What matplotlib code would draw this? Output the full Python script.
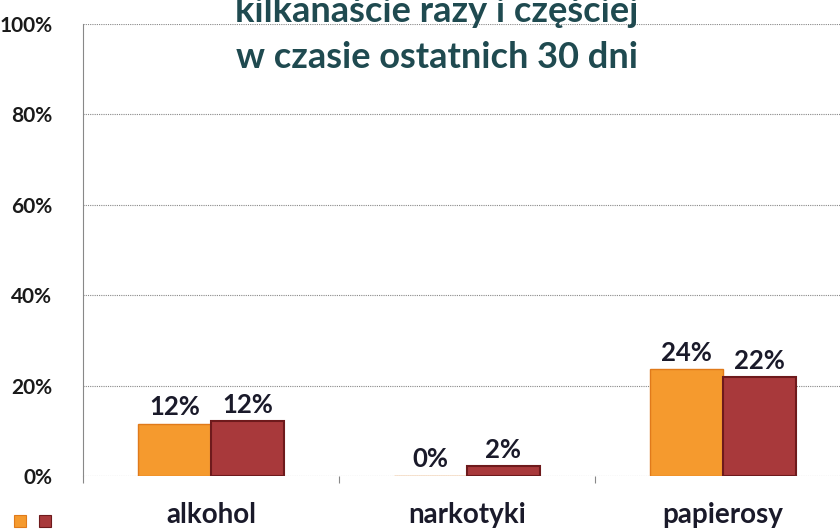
import numpy as np
import matplotlib.pyplot as plt
from matplotlib.patches import Rectangle

categories = ["alkohol", "narkotyki", "papierosy"]
series_a = [11.6, 0.0, 23.6]
series_b = [12.1, 2.2, 21.8]
yticks = [0, 20, 40, 60, 80, 100]
title_lines = ["kilkanaście razy i częściej", "w czasie ostatnich 30 dni"]

plt.rcParams['font.family'] = ['Lato', 'DejaVu Sans']

fig = plt.figure(figsize=(8.4, 5.31), dpi=100)
ax = fig.add_axes([83/840, 55/531, 768/840, 452/531])

x = np.arange(len(categories))
w = 0.285
c_a, c_b = "#f59a2e", "#a8393b"
ax.bar(x - w/2, series_a, w, color=c_a, edgecolor="#e07a1a", linewidth=1.0, zorder=3)
ax.bar(x + w/2, series_b, w, color=c_b, edgecolor="#6e1a1c", linewidth=1.5, zorder=3)

for xi, v in zip(x - w/2, series_a):
    ax.text(xi, v + 1.0, f"{v:.0f}%", ha="center", va="bottom", fontsize=18.5,
            fontweight="bold", color="#1a1a2a")
for xi, v in zip(x + w/2, series_b):
    ax.text(xi, v + 1.0, f"{v:.0f}%", ha="center", va="bottom", fontsize=18.5,
            fontweight="bold", color="#1a1a2a")

ax.set_xlim(-0.5, len(categories) - 0.5)
ax.set_ylim(0, 100)
ax.set_yticks(yticks)
ax.set_yticklabels([f"{t}%" for t in yticks], fontsize=15, fontweight="bold", color="#1a1a1a")
ax.tick_params(axis="y", length=0, pad=22)
ax.set_xticks(x)
ax.set_xticklabels(categories, fontsize=20, fontweight="bold", color="#1a1a2a")
ax.tick_params(axis="x", length=0, pad=19)
ax.set_xticks(np.arange(len(categories) + 1) - 0.5, minor=True)
ax.tick_params(axis="x", which="minor", length=5, color="#888888", width=0.8)

ax.grid(axis="y", linestyle=(0, (1, 1)), color="#888888", linewidth=0.8, zorder=0)
for s in ["top", "right", "bottom"]:
    ax.spines[s].set_visible(False)
ax.spines["left"].set_linestyle((0, (1, 1)))
ax.spines["left"].set_color("#888888")
ax.spines["left"].set_linewidth(0.8)

fig.text(437/840, 1 - 12/531, title_lines[0], ha="center", va="center",
         fontsize=26, fontweight="bold", color="#1f4a50")
fig.text(437/840, 1 - 57/531, title_lines[1], ha="center", va="center",
         fontsize=26, fontweight="bold", color="#1f4a50")

fig.patches.append(Rectangle((14/840, 1 - 527/531), 12/840, 12/531, transform=fig.transFigure,
                             facecolor=c_a, edgecolor="#e07a1a", linewidth=0.8))
fig.patches.append(Rectangle((39/840, 1 - 527/531), 12/840, 12/531, transform=fig.transFigure,
                             facecolor=c_b, edgecolor="#6e1a1c", linewidth=0.8))

fig.savefig("out.png", dpi=100)
